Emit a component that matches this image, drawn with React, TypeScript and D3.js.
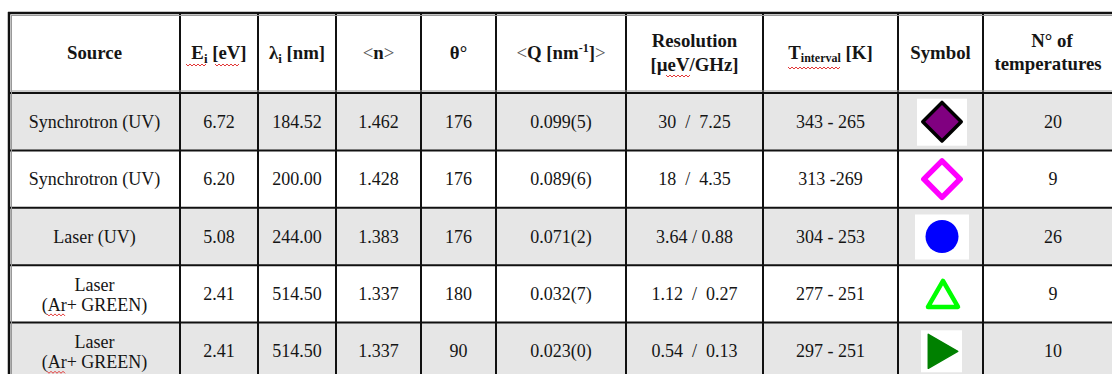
import React from 'react';
import * as d3 from 'd3';

// ---- data ----
const sources: string[][] = [
  ['Synchrotron (UV)'],
  ['Synchrotron (UV)'],
  ['Laser (UV)'],
  ['Laser', '(Ar+ GREEN)'],
  ['Laser', '(Ar+ GREEN)'],
];
const energies = ['6.72', '6.20', '5.08', '2.41', '2.41'];
const wavelengths = ['184.52', '200.00', '244.00', '514.50', '514.50'];
const refrIndex = ['1.462', '1.428', '1.383', '1.337', '1.337'];
const angles = ['176', '176', '176', '180', '90'];
const qValues = ['0.099(5)', '0.089(6)', '0.071(2)', '0.032(7)', '0.023(0)'];
const resolutions = ['30  /  7.25', '18  /  4.35', '3.64 / 0.88', '1.12  /  0.27', '0.54  /  0.13'];
const tIntervals = ['343 - 265', '313 -269', '304 - 253', '277 - 251', '297 - 251'];
const symbols = ['diamondFilled', 'diamondOpen', 'circle', 'triangleOpen', 'triangleRight'];
const nTemps = ['20', '9', '26', '9', '10'];

// ---- layout ----
const W = 1112;
const H = 374;
const colEdges = [9, 180, 258, 336, 421, 496, 626, 763, 898, 983, 1117];
const headerTop = 13;
const headerBottom = 93;
const tableBottom = 380;
const FONT = '"Liberation Serif", "Times New Roman", serif';
const FS = 18;
const HFS = 18.8;
const INK = '#151515';

const yRow = d3.scaleBand<number>().domain(d3.range(5)).range([headerBottom, tableBottom]).padding(0);
const colCenter = (i: number) => (colEdges[i] + colEdges[i + 1]) / 2;

function squiggle(x0: number, x1: number, y: number) {
  const pts: [number, number][] = [];
  let up = true;
  for (let x = x0; x <= x1; x += 2) {
    pts.push([x, y + (up ? -1 : 1)]);
    up = !up;
  }
  return d3.line()(pts) || '';
}

function Symbol({ kind, cx, cy }: { kind: string; cx: number; cy: number }) {
  const gen = d3.symbol();
  if (kind === 'diamondFilled') {
    const d = gen.type(d3.symbolSquare).size(740)() || '';
    return (
      <g>
        <rect x={cx - 25} y={cy - 23} width={50} height={47} fill="#fff" />
        <path d={d} transform={`translate(${cx},${cy}) rotate(45)`} fill="#800080" stroke="#000" strokeWidth={3.5} strokeLinejoin="round" />
      </g>
    );
  }
  if (kind === 'diamondOpen') {
    const d = gen.type(d3.symbolSquare).size(660)() || '';
    return (
      <g>
        <rect x={cx - 25} y={cy - 24} width={50} height={48} fill="#fff" />
        <path d={d} transform={`translate(${cx},${cy}) rotate(45)`} fill="#fff" stroke="#ff00ff" strokeWidth={5.5} strokeLinejoin="round" />
      </g>
    );
  }
  if (kind === 'circle') {
    const d = gen.type(d3.symbolCircle).size(Math.PI * 16.5 * 16.5)() || '';
    return (
      <g>
        <rect x={cx - 27} y={cy - 22} width={54} height={45} fill="#fff" />
        <path d={d} transform={`translate(${cx},${cy})`} fill="#0000ff" />
      </g>
    );
  }
  if (kind === 'triangleOpen') {
    const side = 30;
    const h = (side * Math.sqrt(3)) / 2;
    const d = gen.type(d3.symbolTriangle).size((Math.sqrt(3) / 4) * side * side)() || '';
    return (
      <g>
        <path d={d} transform={`translate(${cx + 1},${cy + h / 6})`} fill="#fff" stroke="#00ff00" strokeWidth={4.5} strokeLinejoin="round" />
      </g>
    );
  }
  // triangleRight
  const side = 34;
  const h = (side * Math.sqrt(3)) / 2;
  const d = gen.type(d3.symbolTriangle).size((Math.sqrt(3) / 4) * side * side)() || '';
  return (
    <g>
      <rect x={cx - 21} y={cy - 21} width={41} height={42} fill="#fff" />
      <path d={d} transform={`translate(${cx - h / 6 + 1},${cy})  rotate(90)`} fill="#008000" stroke="#008000" strokeWidth={1.5} strokeLinejoin="round" />
    </g>
  );
}

export default function App() {
  const hy = (headerTop + headerBottom) / 2 + 6;
  const hy1 = 47;
  const hy2 = 71;
  const bold = { fontWeight: 700, fontSize: HFS } as const;
  const nCx = 1050;

  const cellText = (col: number, row: number, txt: string) => (
    <text
      key={`${col}-${row}`}
      x={colCenter(col)}
      y={(yRow(row) as number) + yRow.bandwidth() / 2 + 6}
      textAnchor="middle"
      style={{ whiteSpace: 'pre' }}
    >
      {txt}
    </text>
  );

  const columns = [energies, wavelengths, refrIndex, angles, qValues, resolutions, tIntervals];

  return (
    <svg
      width={W}
      height={H}
      style={{ position: 'absolute', left: 0, top: 0, background: '#fff', fontFamily: FONT }}
      fontSize={FS}
      fill={INK}
    >
      <rect x={0} y={0} width={W} height={H} fill="#fff" />
      {/* row backgrounds */}
      {d3.range(5).map((r) => (
        <rect
          key={`bg${r}`}
          x={colEdges[0]}
          y={yRow(r) as number}
          width={W - colEdges[0]}
          height={yRow.bandwidth()}
          fill={r % 2 === 0 ? '#e6e6e6' : '#ffffff'}
        />
      ))}

      {/* header */}
      <g style={bold}>
        <text x={colCenter(0)} y={hy} textAnchor="middle">Source</text>
        <text x={colCenter(1)} y={hy} textAnchor="middle">
          E<tspan fontSize={13} dy={4}>i</tspan>
          <tspan dy={-4}> [eV]</tspan>
        </text>
        <text x={colCenter(2)} y={hy} textAnchor="middle">
          λ<tspan fontSize={13} dy={4}>i</tspan>
          <tspan dy={-4}> [nm]</tspan>
        </text>
        <text x={colCenter(3)} y={hy} textAnchor="middle">
          <tspan fontWeight={400} fill="#555">&lt;</tspan>n<tspan fontWeight={400} fill="#555">&gt;</tspan>
        </text>
        <text x={colCenter(4)} y={hy} textAnchor="middle">θ°</text>
        <text x={colCenter(5)} y={hy} textAnchor="middle">
          <tspan fontWeight={400} fill="#555">&lt;</tspan>Q [nm<tspan fontSize={12} dy={-7}>-1</tspan>
          <tspan dy={7}>]</tspan>
          <tspan fontWeight={400} fill="#555">&gt;</tspan>
        </text>
        <text x={colCenter(6)} y={hy1} textAnchor="middle">Resolution</text>
        <text x={colCenter(6)} y={hy2} textAnchor="middle">[µeV/GHz]</text>
        <text x={colCenter(7)} y={hy} textAnchor="middle">
          T<tspan fontSize={12} dy={3}>interval</tspan>
          <tspan dy={-3}> [K]</tspan>
        </text>
        <text x={colCenter(8)} y={hy} textAnchor="middle">Symbol</text>
        <text x={nCx + 2} y={hy1} textAnchor="middle">N° of</text>
        <text x={nCx - 2} y={hy2 - 1} textAnchor="middle">temperatures</text>
      </g>

      {/* body */}
      {d3.range(5).map((r) => {
        const cy = (yRow(r) as number) + yRow.bandwidth() / 2;
        const lines = sources[r];
        return (
          <g key={`row${r}`}>
            {lines.length === 1 ? (
              <text x={colCenter(0)} y={cy + 6} textAnchor="middle">{lines[0]}</text>
            ) : (
              <g>
                <text x={colCenter(0)} y={cy - 3} textAnchor="middle">{lines[0]}</text>
                <text x={colCenter(0)} y={cy + 17} textAnchor="middle">{lines[1]}</text>
                <path d={squiggle(47, 66, cy + 21)} stroke="#e02020" strokeWidth={0.9} fill="none" />
              </g>
            )}
            {columns.map((vals, c) => cellText(c + 1, r, vals[r]))}
            <Symbol kind={symbols[r]} cx={942} cy={cy} />
            <text x={nCx + 3} y={cy + 6} textAnchor="middle">{nTemps[r]}</text>
          </g>
        );
      })}

      {/* spell-check squiggles in header */}
      <g stroke="#e02020" strokeWidth={0.9} fill="none">
        <path d={squiggle(186, 207, 65)} />
        <path d={squiggle(215, 240, 65)} />
        <path d={squiggle(666, 690, 76)} />
        <path d={squiggle(788, 840, 68)} />
      </g>

      {/* grid lines */}
      <g>
        {colEdges.slice(1, -1).map((x, i) => (
          <line key={`v${i}`} x1={x} x2={x} y1={headerTop} y2={tableBottom} stroke="#111" strokeWidth={2} />
        ))}
        {d3.range(1, 5).map((r) => (
          <line
            key={`h${r}`}
            x1={colEdges[0]}
            x2={W}
            y1={yRow(r) as number}
            y2={yRow(r) as number}
            stroke="#111"
            strokeWidth={2}
          />
        ))}
        {/* header bottom double */}
        <line x1={colEdges[0]} x2={W} y1={headerBottom} y2={headerBottom} stroke="#111" strokeWidth={2} />
        <line x1={11} x2={W} y1={headerBottom - 2} y2={headerBottom - 2} stroke="#999" strokeWidth={1} />
        {/* outer border */}
        <line x1={8} x2={W} y1={13} y2={13} stroke="#111" strokeWidth={2.5} />
        <line x1={11} x2={W} y1={15.5} y2={15.5} stroke="#999" strokeWidth={1} />
        <line x1={9} x2={9} y1={12} y2={tableBottom} stroke="#111" strokeWidth={2.5} />
        <line x1={11.5} x2={11.5} y1={15} y2={tableBottom} stroke="#999" strokeWidth={1} />
      </g>
    </svg>
  );
}
